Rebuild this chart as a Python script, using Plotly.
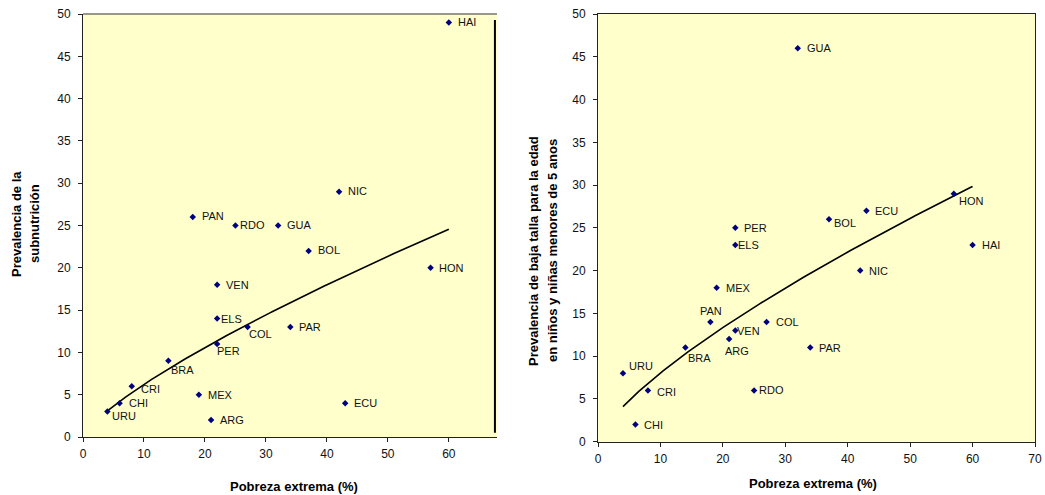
import numpy as np
import plotly.graph_objects as go

# ---- data: left chart (subnutrición) ----
left_countries = ["URU", "CHI", "CRI", "BRA", "MEX", "ARG", "PER", "ELS", "VEN", "COL",
                  "PAR", "BOL", "GUA", "RDO", "PAN", "NIC", "ECU", "HON", "HAI"]
left_pobreza = [4, 6, 8, 14, 19, 21, 22, 22, 22, 27, 34, 37, 32, 25, 18, 42, 43, 57, 60]
left_subnutricion = [3, 4, 6, 9, 5, 2, 11, 14, 18, 13, 13, 22, 25, 25, 26, 29, 4, 20, 49]

# ---- data: right chart (baja talla) ----
right_countries = ["URU", "CHI", "CRI", "BRA", "PAN", "MEX", "ARG", "VEN", "PER", "ELS",
                   "RDO", "COL", "GUA", "PAR", "BOL", "ECU", "NIC", "HON", "HAI"]
right_pobreza = [4, 6, 8, 14, 18, 19, 21, 22, 22, 22, 25, 27, 32, 34, 37, 43, 42, 57, 60]
right_baja_talla = [8, 2, 6, 11, 14, 18, 12, 13, 25, 23, 6, 14, 46, 11, 26, 27, 20, 29, 23]

x_title = "Pobreza extrema (%)"
left_y_title = ["Prevalencia de la", "subnutrición"]
right_y_title = ["Prevalencia de baja talla para la edad", "en niños y niñas menores de 5 anos"]

# ---- label placement (style): (xanchor, dx px, dy px; dy positive = down) ----
default_place = ("left", 7, 0)
left_place = {
    "RDO": ("left", 3, 0), "ELS": ("left", 2, 0), "COL": ("left", -1, 7),
    "PER": ("left", -2, 7), "BRA": ("left", 1, 9), "CRI": ("left", 7, 3),
    "URU": ("left", 3, 4), "BOL": ("left", 7, -1), "PAN": ("left", 7, -1),
    "NIC": ("left", 7, -1), "HON": ("left", 6, 0),
}
right_place = {
    "URU": ("left", 4, -7), "CRI": ("left", 7, 2), "BRA": ("left", 1, 10),
    "PAN": ("center", 1, -11), "ARG": ("center", 8, 12), "VEN": ("left", 0, 0),
    "RDO": ("left", 3, 0), "ELS": ("left", 1, 0), "BOL": ("left", 3, 4),
    "HON": ("left", 3, 7),
}

FONT = "Liberation Sans, Arial, sans-serif"
NAVY = "#000080"
BG = "#FFFFCC"


def power_fit(x, y):
    x = np.asarray(x, float)
    y = np.asarray(y, float)
    b, ln_a = np.polyfit(np.log(x), np.log(y), 1)
    xs = np.linspace(x.min(), x.max(), 200)
    return xs, np.exp(ln_a) * xs ** b


fig = go.Figure()

for xs, ys, xa, ya in [(left_pobreza, left_subnutricion, "x", "y"),
                       (right_pobreza, right_baja_talla, "x2", "y2")]:
    tx, ty = power_fit(xs, ys)
    fig.add_trace(go.Scatter(x=tx, y=ty, mode="lines", xaxis=xa, yaxis=ya,
                             line=dict(color="black", width=1.6), hoverinfo="skip",
                             showlegend=False))
    fig.add_trace(go.Scatter(x=xs, y=ys, mode="markers", xaxis=xa, yaxis=ya,
                             marker=dict(symbol="diamond", size=5, color=NAVY),
                             showlegend=False))

annotations = []
for names, xs, ys, place, xr, yr in [
        (left_countries, left_pobreza, left_subnutricion, left_place, "x", "y"),
        (right_countries, right_pobreza, right_baja_talla, right_place, "x2", "y2")]:
    for n, xv, yv in zip(names, xs, ys):
        anc, dx, dy = place.get(n, default_place)
        annotations.append(dict(x=xv, y=yv, xref=xr, yref=yr, text=n, showarrow=False,
                                xanchor=anc, yanchor="middle", xshift=dx, yshift=-dy,
                                font=dict(family=FONT, size=11, color="#111")))

# axis titles
title_font = dict(family=FONT, size=13, color="black")
annotations += [
    dict(x=294 / 1045, y=1 - 486 / 495, xref="paper", yref="paper", text="<b>%s</b>" % x_title,
         showarrow=False, xanchor="center", yanchor="middle", font=title_font),
    dict(x=813 / 1045, y=1 - 483 / 495, xref="paper", yref="paper", text="<b>%s</b>" % x_title,
         showarrow=False, xanchor="center", yanchor="middle", font=title_font),
]
for xpx, t in zip([16, 34], left_y_title):
    annotations.append(dict(x=xpx / 1045, y=1 - 224 / 495, xref="paper", yref="paper",
                            text="<b>%s</b>" % t, textangle=-90, showarrow=False,
                            xanchor="center", yanchor="middle", font=title_font))
for xpx, t in zip([533, 552], right_y_title):
    annotations.append(dict(x=xpx / 1045, y=1 - 251 / 495, xref="paper", yref="paper",
                            text="<b>%s</b>" % t, textangle=-90, showarrow=False,
                            xanchor="center", yanchor="middle", font=title_font))

tickfont = dict(family=FONT, size=12, color="#111")
axis_common = dict(showgrid=False, zeroline=False, showline=True, linecolor="#222",
                   linewidth=1, ticks="outside", ticklen=4, tickcolor="#222",
                   tickfont=tickfont, automargin=False)

fig.update_layout(
    width=1045, height=495, margin=dict(l=0, r=0, t=0, b=0),
    paper_bgcolor="white", plot_bgcolor=BG, showlegend=False,
    xaxis=dict(domain=[83 / 1045, 497 / 1045], range=[0, 67.9], tickvals=list(range(0, 61, 10)),
               anchor="y", ticklabelstandoff=2, **axis_common),
    yaxis=dict(domain=[1 - 437 / 495, 1 - 14 / 495], range=[0, 50], dtick=5, anchor="x",
               ticklabelstandoff=5, **axis_common),
    xaxis2=dict(domain=[598 / 1045, 1035 / 1045], range=[0, 70], dtick=10, anchor="y2",
                mirror=True, ticklabelstandoff=2, **axis_common),
    yaxis2=dict(domain=[1 - 441.7 / 495, 1 - 14 / 495], range=[0, 50], dtick=5, anchor="x2",
                mirror=True, ticklabelstandoff=5, **axis_common),
    annotations=annotations,
    shapes=[
        # top border of left plot area
        dict(type="line", xref="x domain", yref="y domain", x0=0, x1=1, y0=1, y1=1,
             line=dict(color="#333", width=1.2)),
        # dark vertical rule near the right edge of left plot area
        dict(type="line", xref="x domain", yref="y domain", x0=0.995, x1=0.995, y0=0.01,
             y1=0.986, line=dict(color="black", width=2)),
    ],
)

fig.write_html("out.html")
